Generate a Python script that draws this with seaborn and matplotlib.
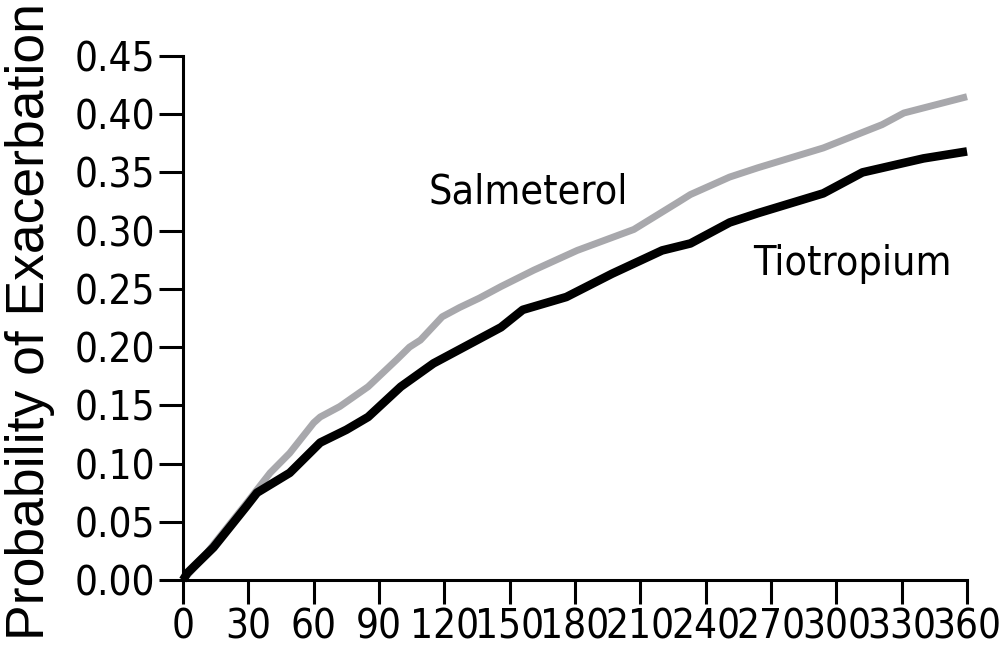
import matplotlib
matplotlib.use("Agg")
import matplotlib.pyplot as plt
import pandas as pd
import seaborn as sns

# Kaplan-Meier style cumulative probability of exacerbation
TIO_DAYS = [0, 2, 14, 29, 34, 49, 63, 75, 85, 100, 115, 127, 146, 156, 176,
            197, 220, 233, 251, 264, 294, 312, 340, 360]
TIO_PROB = [0, 0.006, 0.028, 0.063, 0.075, 0.092, 0.118, 0.129, 0.140, 0.166,
            0.186, 0.198, 0.217, 0.232, 0.243, 0.263, 0.283, 0.289, 0.307,
            0.315, 0.332, 0.350, 0.362, 0.368]

SAL_DAYS = [0, 10, 30, 40, 49, 60, 63, 72, 85, 98, 104, 109, 119, 127, 136,
            146, 161, 181, 207, 227, 233, 251, 264, 294, 321, 331, 360]
SAL_PROB = [0, 0.021, 0.068, 0.092, 0.109, 0.135, 0.140, 0.149, 0.166, 0.189,
            0.200, 0.206, 0.226, 0.234, 0.242, 0.252, 0.266, 0.283, 0.301,
            0.324, 0.331, 0.346, 0.354, 0.371, 0.391, 0.401, 0.415]

X_TICKS = list(range(0, 361, 30))
Y_TICKS = [0.00, 0.05, 0.10, 0.15, 0.20, 0.25, 0.30, 0.35, 0.40, 0.45]

sns.set_style("ticks")
plt.rcParams["font.family"] = ["DejaVu Sans"]
plt.rcParams["font.stretch"] = "condensed"
plt.rcParams["text.color"] = "black"
plt.rcParams["axes.labelcolor"] = "black"

df = pd.concat([
    pd.DataFrame({"day": SAL_DAYS, "prob": SAL_PROB, "drug": "Salmeterol"}),
    pd.DataFrame({"day": TIO_DAYS, "prob": TIO_PROB, "drug": "Tiotropium"}),
])

fig = plt.figure(figsize=(9.99, 6.58), dpi=100)
ax = fig.add_axes([0.1832, 0.1185, 0.7848, 0.7965])

sns.lineplot(data=df[df["drug"] == "Salmeterol"], x="day", y="prob", ax=ax,
             color="#a8a8ac", linewidth=5.0, estimator=None, sort=False)
sns.lineplot(data=df[df["drug"] == "Tiotropium"], x="day", y="prob", ax=ax,
             color="black", linewidth=6.2, estimator=None, sort=False)

ax.set_xlim(0, 360)
ax.set_ylim(0, 0.45)
ax.set_xticks(X_TICKS)
ax.set_yticks(Y_TICKS)
ax.set_yticklabels([f"{v:.2f}" for v in Y_TICKS])
ax.tick_params(axis="both", direction="out", length=17, width=2.2,
               labelsize=29, pad=3, colors="black")
for side in ("top", "right"):
    ax.spines[side].set_visible(False)
for side in ("left", "bottom"):
    ax.spines[side].set_linewidth(2.2)
    ax.spines[side].set_color("black")

ax.set_xlabel("")
ax.set_ylabel("Probability of Exacerbation", fontsize=38.5, color="black",
              family=["Liberation Sans", "DejaVu Sans"], fontstretch="normal")
ax.yaxis.set_label_coords(-0.163, 0.494)

ax.text(112.5, 0.323, "Salmeterol", fontsize=29.5, color="black",
        va="baseline", ha="left")
ax.text(261.7, 0.262, "Tiotropium", fontsize=29.5, color="black",
        va="baseline", ha="left")

for line in ax.get_lines():
    line.set_clip_on(False)
    line.set_solid_capstyle("butt")

fig.savefig("out.png", dpi=100)
